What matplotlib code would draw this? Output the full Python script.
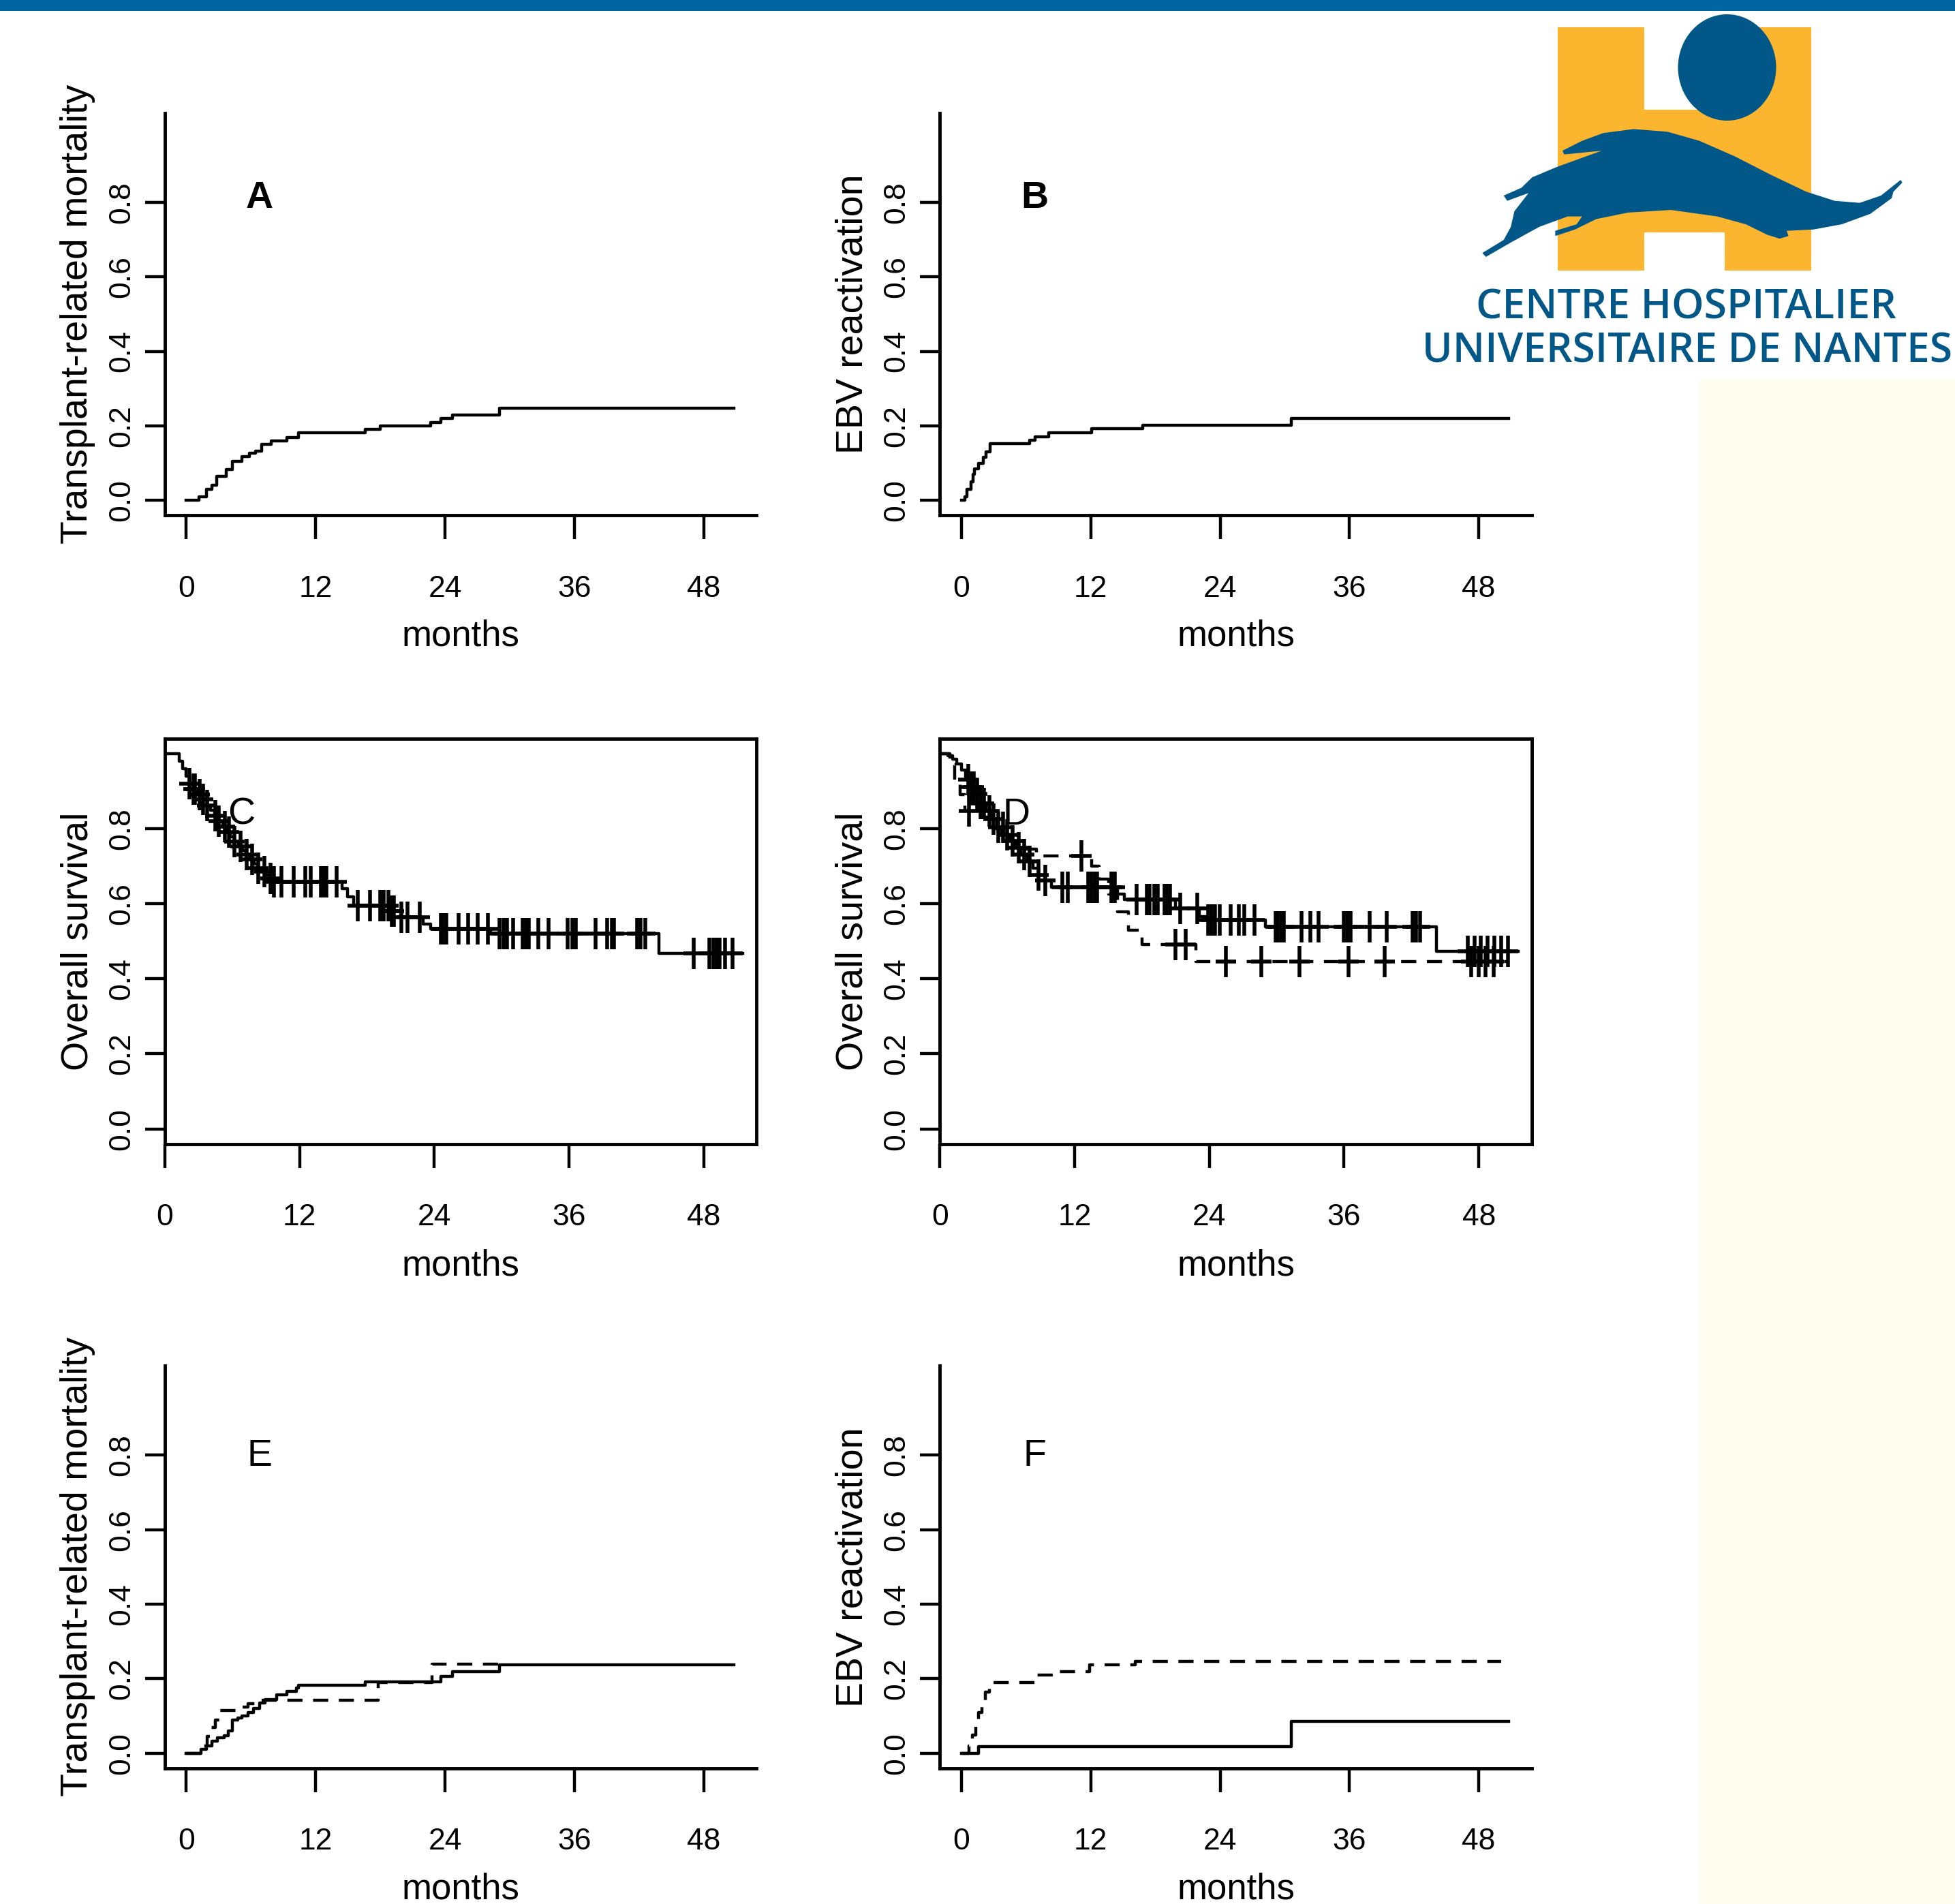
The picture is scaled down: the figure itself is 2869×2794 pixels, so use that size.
import numpy as np
import matplotlib
matplotlib.use("Agg")
import matplotlib.pyplot as plt
from matplotlib import font_manager
from matplotlib.path import Path
from matplotlib.patches import Rectangle, Ellipse, Polygon

# polices : version étroite si elle existe
names = {f.name for f in font_manager.fontManager.ttflist}
narrow = 'Liberation Sans Narrow' if 'Liberation Sans Narrow' in names else 'Liberation Sans'

# ---- données (mois, probabilité) ----
# A : mortalité liée à la greffe
a_t = [0, 1.16, 1.88, 2.4, 2.79, 3.7, 4.24, 5.14, 5.87, 6.41, 6.96, 7.86, 9.31, 10.4,
       16.6, 18.0, 22.7, 23.6, 24.7, 29.06, 50.8]
a_v = [0, 0.010, 0.029, 0.04, 0.065, 0.083, 0.105, 0.117, 0.126, 0.132, 0.150, 0.159, 0.168, 0.182,
       0.191, 0.200, 0.208, 0.220, 0.229, 0.247, 0.247]

# B : réactivation EBV
b_t = [0, 0.3, 0.5, 0.87, 1.05, 1.2, 1.6, 2.0, 2.3, 2.68, 6.3, 6.85, 8.1, 12.1, 16.8, 30.6, 50.8]
b_v = [0, 0.01, 0.03, 0.05, 0.07, 0.085, 0.10, 0.115, 0.13, 0.153, 0.162, 0.171, 0.182, 0.192,
       0.201, 0.219, 0.219]

# C : survie globale
c_t = [0, 1.3, 1.6, 1.9, 2.2, 2.55, 2.95, 3.4, 3.75, 4.1, 4.45, 4.8, 5.15, 5.5, 5.85, 6.2, 6.55,
       6.9, 7.25, 7.6, 7.95, 8.3, 8.65, 9.0, 9.35, 9.7, 15.8, 16.3, 16.8, 20.0, 21.0, 23.0, 23.7,
       29.0, 44.0, 51.5]
c_v = [1.0, 0.98, 0.96, 0.94, 0.92, 0.905, 0.89, 0.877, 0.862, 0.848, 0.834, 0.82, 0.805, 0.79,
       0.778, 0.765, 0.753, 0.742, 0.73, 0.718, 0.706, 0.694, 0.685, 0.676, 0.667, 0.658, 0.64,
       0.618, 0.595, 0.58, 0.563, 0.545, 0.533, 0.52, 0.468, 0.468]
c_cens = [2.2, 2.55, 2.7, 3.1, 3.4, 3.8, 4.5, 4.8, 5.35, 5.7, 6.2, 6.75, 7.3, 7.8, 8.3, 8.85, 9.4,
          9.7, 10.4, 11.5, 12.5, 13.0, 13.9, 14.1, 14.3, 14.4, 15.3, 17.2, 18.3, 19.2, 19.5, 19.9,
          20.2, 20.4, 21.1, 21.6, 22.7, 24.6, 24.8, 25.1, 26.2, 27.0, 27.9, 28.8, 29.8, 30.2, 30.5,
          31.0, 31.9, 32.2, 32.4, 33.3, 34.2, 35.9, 36.3, 36.6, 38.4, 39.4, 39.8, 40.0, 42.1, 42.4,
          42.8, 47.1, 48.5, 48.9, 49.2, 49.4, 49.9, 50.6]

# D : survie globale, deux groupes
d1_t = [0, 0.7, 1.1, 1.5, 1.9, 2.3, 2.7, 3.1, 3.6, 4.1, 4.6, 5.1, 5.7, 6.2, 6.7, 7.2, 7.8, 8.3,
        8.8, 9.3, 9.9, 15.8, 16.4, 21.0, 23.1, 23.8, 29.0, 44.2, 51.5]
d1_v = [1.0, 0.993, 0.985, 0.972, 0.955, 0.93, 0.91, 0.893, 0.867, 0.846, 0.825, 0.804, 0.783,
        0.766, 0.748, 0.73, 0.712, 0.694, 0.676, 0.662, 0.643, 0.625, 0.61, 0.587, 0.566, 0.557,
        0.539, 0.473, 0.473]
d1_cens = [2.5, 2.8, 3.0, 3.3, 3.6, 3.9, 4.4, 4.8, 5.2, 5.6, 6.0, 6.5, 7.0, 7.5, 8.0, 8.8, 9.4,
           10.9, 11.4, 13.2, 13.5, 13.8, 14.0, 15.3, 15.6, 17.5, 18.4, 18.7, 19.1, 19.4, 20.0,
           20.2, 20.5, 21.4, 22.9, 23.9, 24.2, 24.5, 24.9, 25.9, 26.6, 27.1, 28.0, 29.9, 30.1,
           30.4, 30.6, 32.2, 33.0, 33.7, 36.0, 36.3, 36.6, 38.3, 39.8, 42.1, 42.4, 42.8, 47.0,
           47.6, 48.2, 48.8, 49.4, 50.0, 50.6]
d2_t = [0, 0.9, 1.3, 1.8, 2.2, 3.5, 4.5, 5.5, 6.5, 7.5, 8.6, 13.5, 14.2, 15.0, 15.8, 16.8, 18.0,
        22.8, 50.6]
d2_v = [1.0, 0.97, 0.93, 0.89, 0.846, 0.83, 0.80, 0.78, 0.76, 0.745, 0.727, 0.70, 0.665, 0.625,
        0.578, 0.53, 0.491, 0.446, 0.446]
d2_cens = [2.6, 12.6, 21.0, 21.9, 25.5, 28.6, 32.0, 36.4, 39.6, 47.3, 48.0, 48.6, 49.3]

# E : mortalité liée à la greffe, deux groupes
e1_t = [0, 1.34, 1.88, 2.4, 2.9, 3.5, 3.9, 4.3, 4.8, 5.15, 5.7, 6.2, 6.8, 7.3, 8.4, 9.3, 10.2,
        10.4, 16.6, 23.6, 24.7, 29.06, 50.8]
e1_v = [0, 0.01, 0.02, 0.032, 0.042, 0.048, 0.06, 0.09, 0.094, 0.10, 0.11, 0.12, 0.135, 0.145,
        0.157, 0.166, 0.176, 0.182, 0.191, 0.207, 0.219, 0.238, 0.238]
e2_t = [0, 1.5, 1.9, 2.3, 2.7, 3.1, 4.6, 5.7, 6.5, 17.8, 22.8, 29.0]
e2_v = [0, 0.02, 0.045, 0.07, 0.09, 0.115, 0.125, 0.133, 0.143, 0.19, 0.24, 0.24]

# F : réactivation EBV, deux groupes
f1_t = [0, 1.6, 30.6, 50.8]
f1_v = [0, 0.0185, 0.0855, 0.0855]
f2_t = [0, 0.7, 1.0, 1.3, 1.6, 1.9, 2.2, 2.6, 6.8, 8.5, 11.9, 16.1, 50.1]
f2_v = [0, 0.02, 0.05, 0.08, 0.11, 0.14, 0.165, 0.19, 0.21, 0.22, 0.238, 0.247, 0.247]

x_ticks = [0, 12, 24, 36, 48]
y_ticks = [0.0, 0.2, 0.4, 0.6, 0.8]
y_ticklabels = ['0.0', '0.2', '0.4', '0.6', '0.8']

W, H = 2869, 2794
fig = plt.figure(figsize=(W / 100, H / 100), dpi=100)
fig.patch.set_facecolor('white')

# ---- décor : bandeau, logo CHU ----
deco = fig.add_axes([0, 0, 1, 1], zorder=0)
deco.set_xlim(0, W)
deco.set_ylim(H, 0)
deco.axis('off')
blue_band = '#0066a1'
logo_blue = '#005788'
logo_yellow = '#fcb52e'
deco.add_patch(Rectangle((0, 0), W, 16, color=blue_band, lw=0))
deco.add_patch(Rectangle((2494, 556), W - 2494, H - 556, color='#fdfdf0', lw=0))
deco.add_patch(Rectangle((2286, 40), 372, 357, color=logo_yellow, lw=0))
deco.add_patch(Rectangle((2413, 38), 117.5, 123, color='white', lw=0))
deco.add_patch(Rectangle((2413, 340.6), 117.5, 60, color='white', lw=0))
deco.add_patch(Ellipse((2534.5, 99), 144, 156, color=logo_blue, lw=0))
wave = [(2292.9, 221.2), (2321.6, 206.7), (2353.0, 195.2), (2397.4, 189.4), (2447.0, 193.3),
        (2494.0, 206.7), (2546.2, 229.6), (2598.5, 256.4), (2650.7, 281.3), (2692.5, 294.7),
        (2729.0, 297.7), (2760.4, 287.0), (2789.1, 264.1), (2791.7, 267.9), (2778.6, 281.3),
        (2776.0, 290.9), (2744.7, 313.8), (2702.9, 329.1), (2661.1, 336.8), (2622.0, 338.7),
        (2624.6, 346.3), (2611.5, 350.2), (2593.2, 344.4), (2561.9, 329.1), (2520.1, 317.6),
        (2452.2, 308.1), (2389.5, 311.9), (2342.5, 321.5), (2311.2, 336.8), (2282.4, 346.3),
        (2282.4, 338.7), (2313.8, 329.1), (2321.6, 317.6), (2300.7, 317.6), (2258.9, 332.9),
        (2217.1, 355.9), (2180.6, 377.0), (2175.4, 371.2), (2206.7, 352.1), (2217.1, 333.0),
        (2222.4, 310.0), (2243.3, 283.2), (2211.9, 294.7), (2206.7, 287.0), (2232.8, 275.5),
        (2248.5, 260.2), (2285.0, 244.9), (2350.3, 221.2), (2295.5, 226.6)]
deco.add_patch(Polygon(wave, closed=True, color=logo_blue, lw=0))
deco.text(2474, 467, 'CENTRE HOSPITALIER', ha='center', va='baseline', fontsize=43.5,
          family='Open Sans', fontweight='semibold', color=logo_blue)
deco.text(2476, 532, 'UNIVERSITAIRE DE NANTES', ha='center', va='baseline', fontsize=43.5,
          family='Open Sans', fontweight='semibold', color=logo_blue)

# marque de censure "+" (plus haute que large, comme sur l'image)
plus = Path([(-0.65, 0), (0.65, 0), (0, -1), (0, 1)],
            [Path.MOVETO, Path.LINETO, Path.MOVETO, Path.LINETO])


def value_at(times, vals, t):
    i = np.searchsorted(times, t, side='right') - 1
    return np.asarray(vals)[i]


def make_panel(rect, ylabel, letter, letter_y, bold, xlim, box):
    ax = fig.add_axes(rect, zorder=2)
    ax.set_facecolor('none')
    ax.set_xlim(*xlim)
    ax.set_ylim(-0.04, 1.04)
    for s in ['left', 'bottom', 'top', 'right']:
        ax.spines[s].set_linewidth(3.5)
    if not box:
        ax.spines['top'].set_visible(False)
        ax.spines['right'].set_visible(False)
    ax.set_xticks(x_ticks)
    ax.set_xticklabels([str(v) for v in x_ticks], family=narrow, fontsize=32)
    ax.set_yticks(y_ticks)
    ax.set_yticklabels(y_ticklabels, family=narrow, fontsize=32, rotation=90, va='center')
    ax.tick_params(axis='x', length=25, width=3.2, pad=38)
    ax.tick_params(axis='y', length=21, width=3.2, pad=10)
    ax.set_xlabel('months', family=narrow, fontsize=38)
    ax.xaxis.set_label_coords(0.5, -0.30)
    ax.xaxis.label.set_va('center')
    ax.set_ylabel(ylabel, family='Liberation Sans', fontsize=40)
    ax.yaxis.set_label_coords(-0.147, 0.5)
    ax.yaxis.label.set_va('center')
    ax.text(6.8, letter_y, letter, family=narrow, fontsize=40,
            fontweight='bold' if bold else 'normal', ha='center', va='center')
    return ax


lw = 3.2
dash = (0, (5, 3.5))
xl_cif = (-2.0, 52.9)
xl_km = (0, 52.7)
cens_style = dict(ls='none', marker=plus, ms=33, mec='black', mfc='none', mew=4.0)

left1, left2 = 0.0843, 0.4808
wd = 0.3026
row_b = [0.7294, 0.3992, 0.0713]
row_h = [0.2113, 0.2130, 0.2115]

axA = make_panel([left1, row_b[0], wd, row_h[0]], 'Transplant-related mortality', 'A', 0.81, True, xl_cif, False)
axA.step(a_t, a_v, where='post', color='black', lw=lw)

axB = make_panel([left2, row_b[0], wd, row_h[0]], 'EBV reactivation', 'B', 0.81, True, xl_cif, False)
axB.step(b_t, b_v, where='post', color='black', lw=lw)

axC = make_panel([left1, row_b[1], wd, row_h[1]], 'Overall survival', 'C', 0.836, False, xl_km, True)
axC.step(c_t, c_v, where='post', color='black', lw=lw)
axC.plot(c_cens, value_at(c_t, c_v, c_cens), **cens_style)

axD = make_panel([left2, row_b[1], wd, row_h[1]], 'Overall survival', 'D', 0.836, False, xl_km, True)
axD.step(d1_t, d1_v, where='post', color='black', lw=lw)
axD.step(d2_t, d2_v, where='post', color='black', lw=lw, linestyle=dash)
axD.plot(d1_cens, value_at(d1_t, d1_v, d1_cens), **cens_style)
axD.plot(d2_cens, value_at(d2_t, d2_v, d2_cens), **cens_style)

axE = make_panel([left1, row_b[2], wd, row_h[2]], 'Transplant-related mortality', 'E', 0.797, False, xl_cif, False)
axE.step(e1_t, e1_v, where='post', color='black', lw=lw)
axE.step(e2_t, e2_v, where='post', color='black', lw=lw, linestyle=dash)

axF = make_panel([left2, row_b[2], wd, row_h[2]], 'EBV reactivation', 'F', 0.797, False, xl_cif, False)
axF.step(f1_t, f1_v, where='post', color='black', lw=lw)
axF.step(f2_t, f2_v, where='post', color='black', lw=lw, linestyle=dash)

fig.savefig('out.png', dpi=100)
